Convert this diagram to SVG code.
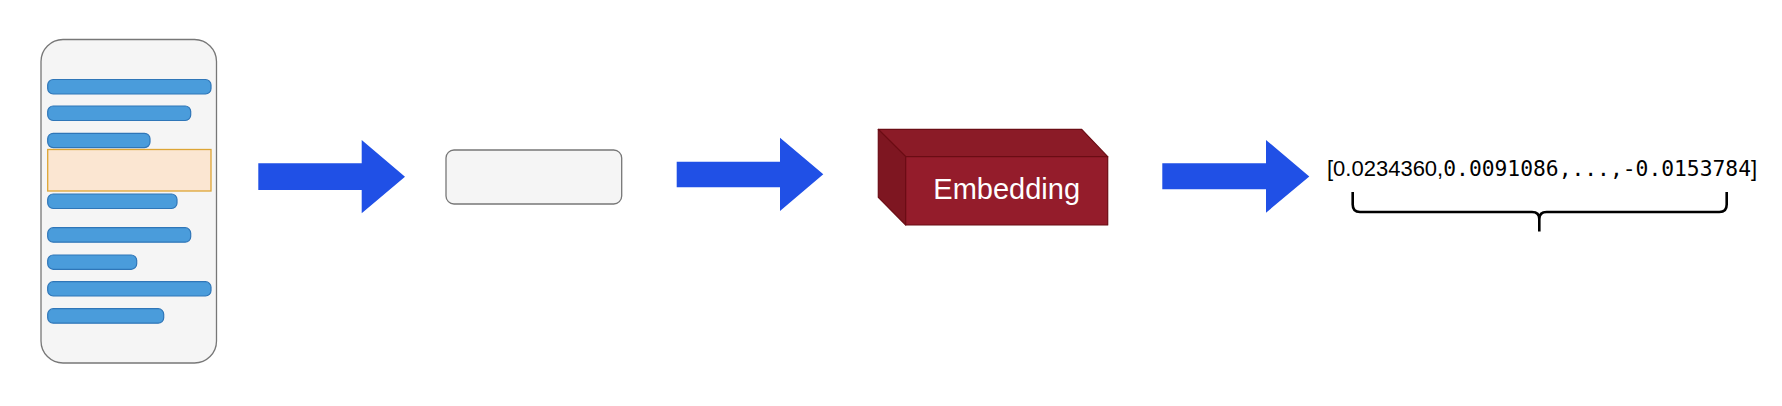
<svg xmlns="http://www.w3.org/2000/svg" width="1782" height="406" viewBox="0 0 1782 406">
<style>
.bar{fill:#4A9CDB;stroke:#2F76B8;stroke-width:1.2}
.arrow{fill:#2050E6}
.box{fill:#F5F5F5;stroke:#777777;stroke-width:1.3}
.cube{stroke:#6B0C14;stroke-width:1.2;stroke-linejoin:round}
.sans{font-family:"Liberation Sans",Arial,sans-serif}
.mono{font-family:"DejaVu Sans Mono","Liberation Mono",monospace}
</style>
<rect width="1782" height="406" fill="#FFFFFF"/>
<g id="document">
<rect class="box" x="41" y="39.5" width="175.5" height="323.5" rx="22"/>
<rect class="bar" x="47.7" y="79.5" width="163.3" height="14.5" rx="5.5"/>
<rect class="bar" x="47.7" y="106" width="143" height="14.5" rx="5.5"/>
<rect class="bar" x="47.7" y="133.3" width="102.3" height="14.3" rx="5.5"/>
<rect x="47.7" y="149.5" width="163.3" height="41.5" fill="#FBE6D2" stroke="#DDA535" stroke-width="1.3"/>
<rect class="bar" x="47.7" y="194" width="129.3" height="14.5" rx="5.5"/>
<rect class="bar" x="47.7" y="227.7" width="143" height="14.5" rx="5.5"/>
<rect class="bar" x="47.7" y="255" width="89" height="14.3" rx="5.5"/>
<rect class="bar" x="47.7" y="281.7" width="163.3" height="14.3" rx="5.5"/>
<rect class="bar" x="47.7" y="308.7" width="116" height="14.5" rx="5.5"/>
</g>
<g id="chunk">
<rect class="box" x="446" y="150" width="175.7" height="54" rx="8"/>
</g>
<g id="embedding">
<polygon class="cube" points="878.3,129.3 1081.7,129.3 1107.7,156.7 905.7,156.7" fill="#8B1B27"/>
<polygon class="cube" points="878.3,129.3 905.7,156.7 905.7,225 878.3,197.3" fill="#7E1621"/>
<rect class="cube" x="905.7" y="156.7" width="202" height="68.3" fill="#941C2B"/>
<text class="sans" x="1006.7" y="199.3" font-size="29" fill="#FFFFFF" text-anchor="middle">Embedding</text>
</g>
<g id="vector">
<text x="1327" y="175.5" fill="#000000"><tspan class="sans" font-size="22">[0.0234360,</tspan><tspan class="mono" font-size="21.3">0.0091086,...,-0.0153784</tspan><tspan class="sans" font-size="22">]</tspan></text>
<path d="M1352.7,192 V204.5 Q1352.7,212 1360,212 H1532 Q1539.3,212 1539.3,219 V231.5 M1539.3,219 Q1539.3,212 1546.6,212 H1719.4 Q1726.7,212 1726.7,204.5 V192" fill="none" stroke="#000000" stroke-width="2.6"/>
</g>
<g id="connectors">
<polygon class="arrow" points="258.3,163.3 361.7,163.3 361.7,140 405,176.7 361.7,213.3 361.7,190 258.3,190"/>
<polygon class="arrow" points="676.7,161.7 780,161.7 780,137.7 823.3,174.3 780,211 780,187.3 676.7,187.3"/>
<polygon class="arrow" points="1162.3,163.3 1266,163.3 1266,140 1309.3,176.4 1266,212.7 1266,189.3 1162.3,189.3"/>
</g>
</svg>
